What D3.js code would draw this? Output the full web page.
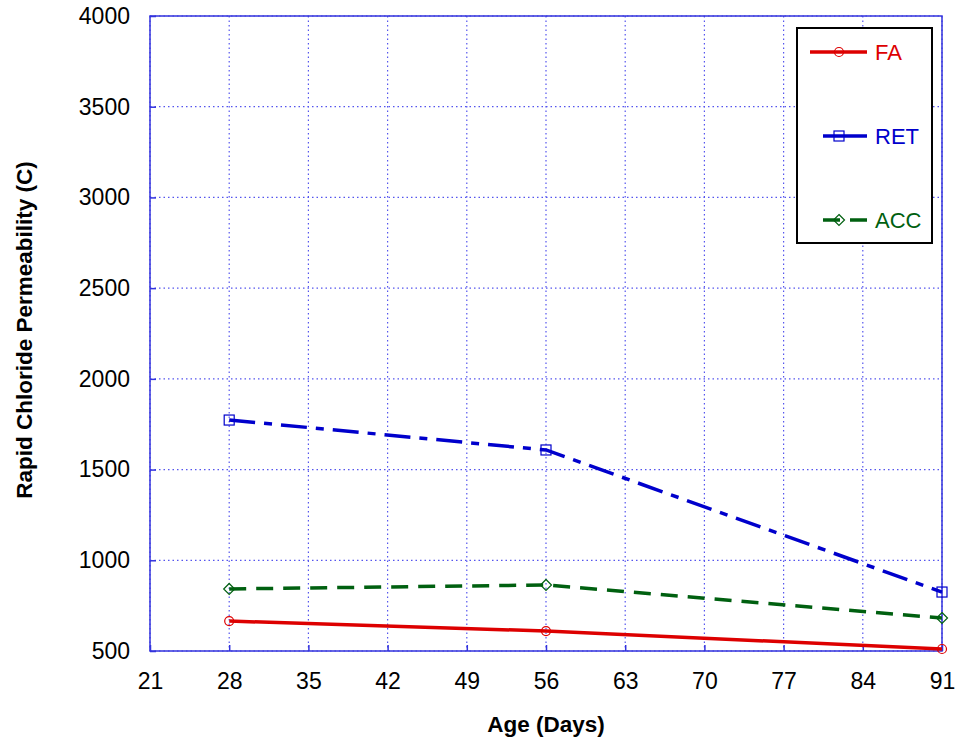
<!DOCTYPE html>
<html><head><meta charset="utf-8">
<script src="https://cdn.jsdelivr.net/npm/d3@7"></script>
<style>body{margin:0;background:#fff}</style>
</head><body>
<svg id="c" width="955" height="740"></svg>
<script>
const ages = [28, 56, 91];
const faValues = [665, 610, 511];
const retValues = [1773, 1608, 825];
const accValues = [842, 864, 682];
const xTicks = [21, 28, 35, 42, 49, 56, 63, 70, 77, 84, 91];
const yTicks = [500, 1000, 1500, 2000, 2500, 3000, 3500, 4000];
const seriesNames = ["FA", "RET", "ACC"];

const svg = d3.select("#c");
const L = 150, R = 942, T = 16, B = 651;
const x = d3.scaleLinear().domain([21, 91]).range([L, R]);
const y = d3.scaleLinear().domain([500, 4000]).range([B, T]);
const gridColor = "#5555ee";
const font = "'Liberation Sans', Arial, sans-serif";

// grid
svg.append("g").selectAll("line").data(xTicks).join("line")
  .attr("x1", d => x(d)).attr("x2", d => x(d)).attr("y1", T).attr("y2", B)
  .attr("stroke", gridColor).attr("stroke-width", 1.2).attr("stroke-dasharray", "1.5,3");
svg.append("g").selectAll("line").data(yTicks).join("line")
  .attr("x1", L).attr("x2", R).attr("y1", d => y(d)).attr("y2", d => y(d))
  .attr("stroke", gridColor).attr("stroke-width", 1.2).attr("stroke-dasharray", "1.5,3");

// frame
svg.append("rect").attr("x", L).attr("y", T).attr("width", R - L).attr("height", B - T)
  .attr("fill", "none").attr("stroke", "#3333dd").attr("stroke-width", 1.5);

// axes
const xAxis = svg.append("g").attr("transform", `translate(0,${B})`)
  .call(d3.axisBottom(x).tickValues(xTicks).tickFormat(d3.format("d")).tickSize(-6).tickPadding(16));
const yAxis = svg.append("g").attr("transform", `translate(${L},0)`)
  .call(d3.axisLeft(y).tickValues(yTicks).tickFormat(d3.format("d")).tickSize(-6).tickPadding(20));
[xAxis, yAxis].forEach(a => {
  a.select(".domain").remove();
  a.selectAll(".tick line").attr("stroke", "#3333dd").attr("stroke-width", 1.5);
  a.selectAll("text").attr("font-family", font).attr("font-size", 23).attr("fill", "#000");
});
xAxis.selectAll("text").attr("dy", null).attr("y", 38);

// titles
svg.append("text").attr("x", 546).attr("y", 732).attr("text-anchor", "middle")
  .attr("font-family", font).attr("font-weight", "bold").attr("font-size", 22.5).text("Age (Days)");
svg.append("text").attr("transform", "translate(32,330) rotate(-90)").attr("text-anchor", "middle")
  .attr("font-family", font).attr("font-weight", "bold").attr("font-size", 22.5)
  .text("Rapid Chloride Permeability (C)");

const series = [
  {name: seriesNames[0], vals: faValues, color: "#dd0000", dash: null, marker: "circle"},
  {name: seriesNames[1], vals: retValues, color: "#0000cc", dash: "26,9,8,9", marker: "square"},
  {name: seriesNames[2], vals: accValues, color: "#006010", dash: "17,10", marker: "diamond"}
];
const line = d3.line().x(d => x(d[0])).y(d => y(d[1]));

function marker(g, type, cx, cy, color) {
  if (type === "circle") g.append("circle").attr("cx", cx).attr("cy", cy).attr("r", 4.5)
    .attr("fill", "none").attr("stroke", color).attr("stroke-width", 1.2);
  else if (type === "square") g.append("rect").attr("x", cx - 5).attr("y", cy - 5).attr("width", 10).attr("height", 10)
    .attr("fill", "none").attr("stroke", color).attr("stroke-width", 1.2);
  else g.append("path").attr("d", `M${cx},${cy-5.5}L${cx+5.5},${cy}L${cx},${cy+5.5}L${cx-5.5},${cy}Z`)
    .attr("fill", "none").attr("stroke", color).attr("stroke-width", 1.2);
}

series.forEach(s => {
  const pts = ages.map((a, i) => [a, s.vals[i]]);
  svg.append("path").datum(pts).attr("d", line).attr("fill", "none")
    .attr("stroke", s.color).attr("stroke-width", 3.5)
    .attr("stroke-dasharray", s.dash);
  const g = svg.append("g");
  pts.forEach(p => marker(g, s.marker, x(p[0]), y(p[1]), s.color));
});

// legend
svg.append("rect").attr("x", 797).attr("y", 28).attr("width", 135).attr("height", 215)
  .attr("fill", "#fff").attr("stroke", "#000").attr("stroke-width", 2);
const legY = [52, 136, 220];
const legX1 = [810, 823, 823];
series.forEach((s, i) => {
  const g = svg.append("g");
  g.append("line").attr("x1", legX1[i]).attr("x2", 867).attr("y1", legY[i]).attr("y2", legY[i])
    .attr("stroke", s.color).attr("stroke-width", 3.5)
    .attr("stroke-dasharray", i === 2 ? "17,10" : null);
  marker(g, s.marker, 839, legY[i], s.color);
  g.append("text").attr("x", 875).attr("y", legY[i] + 8).attr("font-family", font)
    .attr("font-size", 22).attr("fill", s.color).text(s.name);
});
</script>
</body></html>
